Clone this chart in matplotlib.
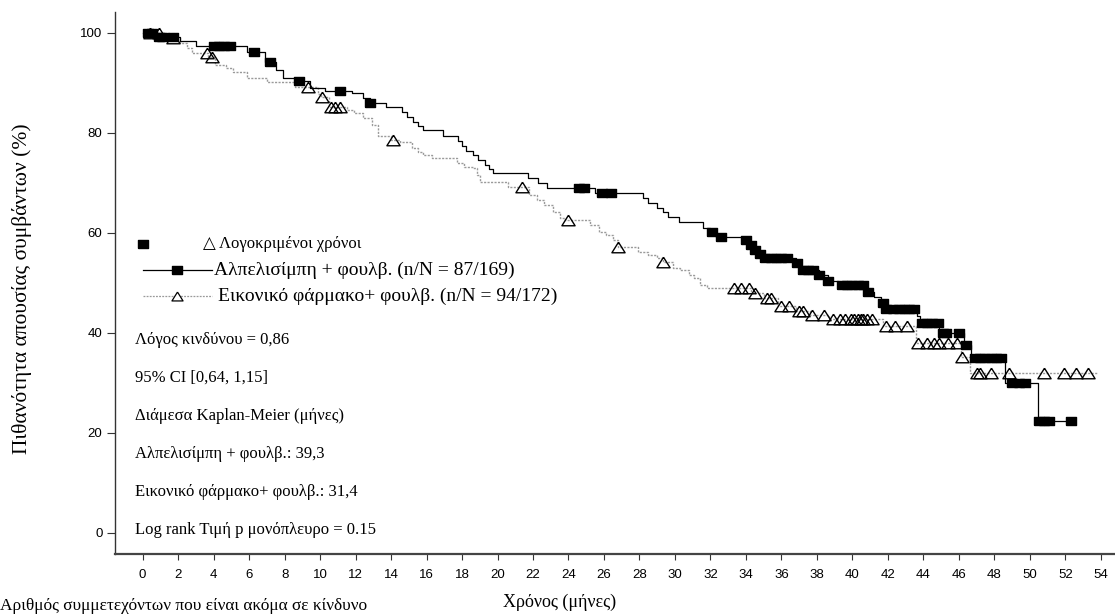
import numpy as np
import matplotlib
matplotlib.use("Agg")
import matplotlib.pyplot as plt

# Kaplan-Meier steps (time in months, survival %)
alp_t = [0, 0.6, 2.1, 3.0, 5.9, 6.9, 7.5, 7.9, 8.6, 9.45, 10.3, 11.8, 12.4, 12.8,
         13.7, 14.6, 14.9, 15.25, 15.5, 15.8, 16.9, 17.8, 18.0, 18.2, 18.6, 18.9,
         19.3, 19.5, 19.75, 21.7, 22.3, 22.8, 25.5, 28.2, 28.5, 29.0, 29.3, 29.6,
         30.2, 31.6, 32.0, 32.3, 33.9, 34.2, 34.45, 34.7, 34.95, 36.8, 37.0, 38.1,
         38.6, 39.2, 40.8, 41.2, 41.6, 41.85, 43.65, 43.8, 44.9, 46.3, 46.7, 48.6,
         50.45, 52.3]
alp_s = [100, 99.2, 98.3, 97.4, 96.1, 94.1, 92.5, 91.0, 90.3, 89.0, 88.4, 87.9, 87.0, 86.0,
         85.2, 84.2, 83.2, 82.2, 81.4, 80.6, 79.4, 78.3, 77.3, 76.3, 75.6, 74.6,
         73.6, 72.8, 71.9, 71.0, 70.0, 69.0, 68.0, 67.0, 66.0, 65.0, 64.2, 63.2,
         62.2, 61.0, 60.2, 59.2, 58.6, 57.6, 56.6, 55.8, 55.0, 54.0, 52.6, 51.6,
         50.4, 49.6, 48.2, 47.2, 46.0, 44.8, 43.3, 42.0, 40.0, 37.6, 35.0, 30.0,
         22.4, 22.4]
alp_cens = [0.3, 0.5, 0.9, 1.1, 1.7, 4.0, 4.3, 4.6, 4.9, 6.3, 7.2, 8.8, 11.1, 12.8,
            24.6, 24.9, 25.9, 26.4, 32.1, 32.6, 34.0, 34.3, 34.5, 34.8, 35.1, 35.4,
            35.7, 36.0, 36.3, 36.9, 37.2, 37.5, 37.8, 38.1, 38.6, 39.4, 39.7, 40.0,
            40.3, 40.6, 40.9, 41.7, 41.9, 42.3, 42.6, 42.9, 43.2, 43.5, 43.9, 44.2,
            44.5, 44.8, 45.1, 45.3, 46.0, 46.4, 46.9, 47.2, 47.5, 47.8, 48.1, 48.4,
            49.0, 49.4, 49.7, 50.5, 50.8, 51.1, 52.3]

pbo_t = [0, 1.5, 2.1, 2.5, 2.8, 3.7, 4.1, 4.7, 5.1, 5.9, 7.0, 8.6, 9.9, 10.05, 10.5,
         11.5, 11.9, 12.4, 12.9, 13.25, 14.0, 14.5, 15.2, 15.5, 15.8, 16.3, 17.7,
         18.1, 18.6, 18.85, 19.0, 20.6, 21.8, 22.2, 22.6, 23.1, 23.5, 23.8, 25.2,
         25.7, 26.1, 26.5, 26.8, 27.9, 28.5, 29.0, 29.3, 29.9, 30.3, 30.8, 31.1,
         31.4, 31.8, 34.3, 35.0, 35.8, 36.8, 37.6, 38.7, 41.7, 43.6, 46.1, 46.6,
         53.8]
pbo_s = [100, 99.0, 98.0, 97.0, 96.0, 95.2, 93.6, 93.0, 92.2, 91.0, 90.2, 89.2, 87.8, 87.2,
         85.2, 84.6, 84.0, 83.0, 81.6, 79.4, 78.6, 78.2, 77.0, 76.2, 75.6, 75.0, 74.0,
         73.2, 73.0, 71.6, 70.2, 69.2, 67.6, 66.6, 65.6, 64.2, 63.0, 62.6, 61.6,
         60.2, 59.6, 58.6, 57.2, 56.2, 55.6, 55.0, 54.1, 53.0, 52.6, 51.6, 51.0,
         49.6, 49.0, 48.0, 47.0, 45.4, 44.4, 43.6, 42.8, 41.4, 38.0, 35.2, 32.0,
         32.0]
pbo_cens = [0.4, 0.9, 1.7, 3.6, 3.9, 9.3, 10.1, 10.6, 10.85, 11.1, 14.1, 21.4, 24.0,
            26.8, 29.3, 33.3, 33.7, 34.2, 34.5, 35.2, 35.4, 35.95, 36.4, 37.0, 37.2,
            37.75, 38.4, 38.9, 39.3, 39.6, 39.9, 40.1, 40.3, 40.5, 40.6, 40.8, 41.1,
            41.9, 42.4, 43.1, 43.7, 44.2, 44.6, 44.9, 45.4, 45.9, 46.2, 47.05, 47.2,
            47.8, 48.8, 50.8, 51.9, 52.6, 53.3]

x_ticks = list(range(0, 55, 2))
y_ticks = [0, 20, 40, 60, 80, 100]

lbl_alp = "Αλπελισίμπη + φουλβ. (n/N = 87/169)"
lbl_pbo = "Εικονικό φάρμακο+ φουλβ. (n/N = 94/172)"
lbl_cens = "△ Λογοκριμένοι χρόνοι"
stats = ["Λόγος κινδύνου = 0,86",
         "95% CI [0,64, 1,15]",
         "Διάμεσα Kaplan-Meier (μήνες)",
         "Αλπελισίμπη + φουλβ.: 39,3",
         "Εικονικό φάρμακο+ φουλβ.: 31,4",
         "Log rank Τιμή p μονόπλευρο = 0.15"]

serif = ["Liberation Serif", "DejaVu Serif"]
sans = ["Liberation Sans", "DejaVu Sans"]


def step_at(t, s, x):
    idx = np.searchsorted(t, x, side="right") - 1
    return np.asarray(s)[idx]


sq = [(-1.4, -1), (1.4, -1), (1.4, 1), (-1.4, 1), (-1.4, -1)]
tri = [(0, 0.8), (-1, -0.8), (1, -0.8), (0, 0.8)]

fig = plt.figure(figsize=(11.15, 6.15), dpi=100)
ax = fig.add_axes([0.1031, 0.0992, 0.8969, 0.8813])

ax.plot(pbo_t, pbo_s, drawstyle="steps-post", color="#9a9a9a", lw=1.0,
        ls=(0, (1.5, 1)))
ax.plot(alp_t, alp_s, drawstyle="steps-post", color="black", lw=0.9)

ax.plot(pbo_cens, step_at(pbo_t, pbo_s, pbo_cens), ls="none", marker=tri,
        ms=9.5, mfc="none", mec="black", mew=1.0)
ax.plot(alp_cens, step_at(alp_t, alp_s, alp_cens), ls="none", marker=sq,
        ms=7.5, mfc="black", mec="black")

ax.set_xlim(-1.56, 54.8)
ax.set_ylim(-4.2, 104.2)
ax.set_xticks(x_ticks)
ax.set_yticks(y_ticks)
for side in ["top", "right"]:
    ax.spines[side].set_visible(False)
ax.spines["left"].set_color("#333333")
ax.spines["left"].set_linewidth(1.0)
ax.spines["bottom"].set_color("#444444")
ax.spines["bottom"].set_linewidth(1.6)
ax.tick_params(axis="y", length=6, width=0.8, pad=3, color="#333333", labelsize=9.5)
ax.tick_params(axis="x", length=4, width=0.8, pad=7, color="#333333", labelsize=9.5)
for lab in ax.get_xticklabels() + ax.get_yticklabels():
    lab.set_family(sans)

# legend drawn by hand, like the original
tr = ax.transAxes
ax.plot([0.028], [0.572], transform=tr, marker=sq, ms=7.5, color="black", ls="none")
ax.text(0.088, 0.572, lbl_cens, transform=tr, va="center", ha="left",
        fontsize=12, family=serif)
ax.plot([0.028, 0.097], [0.524, 0.524], transform=tr, color="black", lw=0.9)
ax.plot([0.062], [0.524], transform=tr, marker=sq, ms=7.5, color="black")
ax.text(0.099, 0.524, lbl_alp, transform=tr, va="center", ha="left",
        fontsize=14, family=serif)
ax.plot([0.028, 0.097], [0.476, 0.476], transform=tr, color="#9a9a9a", lw=0.9,
        ls=(0, (1.5, 1)))
ax.plot([0.062], [0.476], transform=tr, marker=tri, ms=8, mfc="white",
        mec="black", mew=0.9)
ax.text(0.103, 0.476, lbl_pbo, transform=tr, va="center", ha="left",
        fontsize=14, family=serif)

for i, s in enumerate(stats):
    ax.text(0.020, 0.395 - i * 0.0702, s, transform=tr, va="center", ha="left",
            fontsize=12, family=serif)

fig.text(22 / 1115, 1 - 289 / 615, "Πιθανότητα απουσίας συμβάντων (%)",
         rotation=90, va="center", ha="center", fontsize=15.5, family=serif)
fig.text(560 / 1115, 1 - 602 / 615, "Χρόνος (μήνες)", va="center", ha="center",
         fontsize=13, family=serif)
fig.text(0.0, 1 - 606 / 615, "Αριθμός συμμετεχόντων που είναι ακόμα σε κίνδυνο",
         va="center", ha="left", fontsize=12.5, family=serif)

fig.savefig("out.png", dpi=100)
